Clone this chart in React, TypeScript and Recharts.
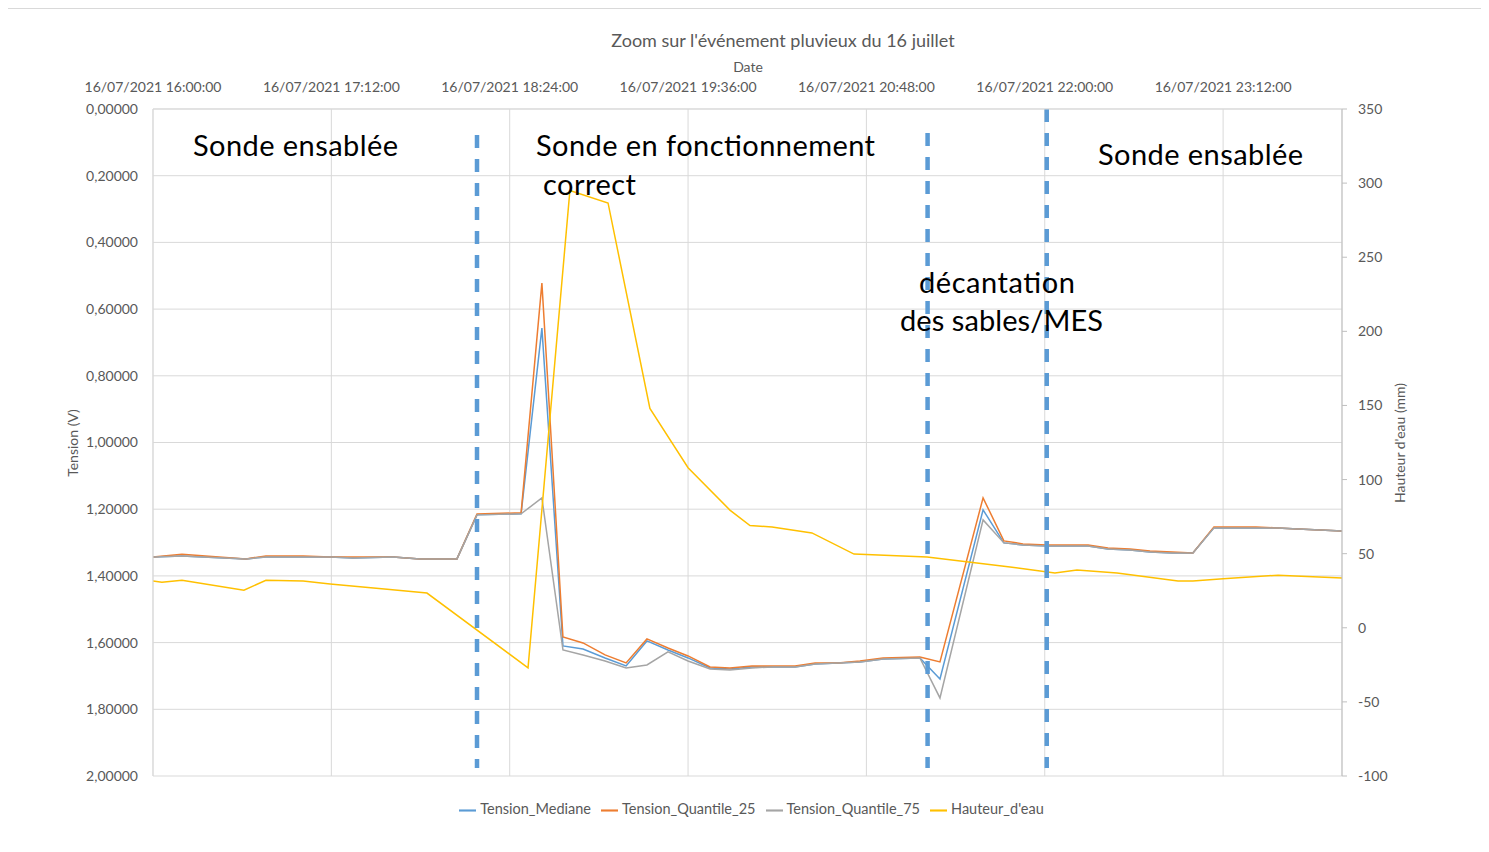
import React from 'react';
import { LineChart, Line, XAxis, YAxis, CartesianGrid, ReferenceLine, Legend } from 'recharts';

// minutes after 16/07/2021 16:00:00
const tensionTimes = [0, 11.7, 37.5, 45.6, 60.6, 71.5, 80.8, 96.9, 107.8, 122.7, 130.8, 148.6, 157.0, 165.5, 173.6, 182.5, 191.0, 199.4, 207.9, 216.0, 224.9, 232.9, 241.8, 250.3, 259.2, 267.3, 276.5, 285.4, 294.7, 309.6, 317.7, 335.1, 343.5, 351.2, 360.9, 369.0, 377.5, 385.5, 394.4, 402.5, 411.4, 419.8, 428.3, 436.8, 445.3, 453.8, 462.2, 471.1, 480];
const tensionMediane = [1.343, 1.340, 1.349, 1.343, 1.343, 1.343, 1.346, 1.343, 1.349, 1.349, 1.217, 1.214, 0.657, 1.610, 1.619, 1.646, 1.670, 1.595, 1.622, 1.646, 1.676, 1.679, 1.673, 1.673, 1.673, 1.664, 1.661, 1.658, 1.649, 1.646, 1.709, 1.202, 1.301, 1.307, 1.310, 1.310, 1.310, 1.319, 1.322, 1.328, 1.331, 1.331, 1.256, 1.256, 1.256, 1.256, 1.259, 1.262, 1.265];
const tensionQ25 = [1.343, 1.335, 1.349, 1.340, 1.340, 1.343, 1.343, 1.343, 1.349, 1.349, 1.214, 1.211, 0.522, 1.583, 1.601, 1.637, 1.661, 1.589, 1.616, 1.640, 1.673, 1.676, 1.670, 1.670, 1.670, 1.661, 1.661, 1.655, 1.646, 1.643, 1.658, 1.166, 1.295, 1.304, 1.307, 1.307, 1.307, 1.316, 1.319, 1.325, 1.328, 1.331, 1.253, 1.253, 1.253, 1.256, 1.259, 1.262, 1.265];
const tensionQ75 = [1.343, 1.340, 1.349, 1.343, 1.343, 1.343, 1.346, 1.343, 1.349, 1.349, 1.217, 1.214, 1.166, 1.622, 1.637, 1.655, 1.676, 1.667, 1.628, 1.655, 1.679, 1.682, 1.676, 1.673, 1.673, 1.664, 1.661, 1.658, 1.649, 1.646, 1.766, 1.232, 1.301, 1.307, 1.310, 1.310, 1.310, 1.319, 1.322, 1.328, 1.331, 1.331, 1.256, 1.256, 1.256, 1.256, 1.259, 1.262, 1.265];

const hauteurTimes = [0, 3.6, 11.7, 36.7, 45.6, 60.6, 71.5, 94.5, 110.6, 151.4, 168.3, 183.7, 200.6, 216.0, 232.9, 241.0, 249.9, 266.0, 283.0, 312.5, 332.6, 346.0, 364.1, 373.0, 389.2, 413.8, 419.8, 432.0, 454.2, 480];
const hauteurEau = [31.5, 30.8, 32, 25.4, 32, 31.5, 29.5, 26, 23.4, -27, 295, 286.6, 148, 108, 79.4, 69, 68, 64, 49.7, 47.7, 43.7, 41, 37, 39, 37, 31.5, 31.5, 33, 35.5, 33.5];

const timeTicks = [0, 72, 144, 216, 288, 360, 432];
const tensionTicks = [0, 0.2, 0.4, 0.6, 0.8, 1.0, 1.2, 1.4, 1.6, 1.8, 2.0];
const hauteurTicks = [-100, -50, 0, 50, 100, 150, 200, 250, 300, 350];

// vertical dashed separators (time, top in V, bottom in V)
const dividerTimes = [130.8, 312.7, 360.8];
const dividerTops = [0.078, 0.072, 0.0];
const dividerBottom = 1.976;

const GREY = '#595959';
const TICK = { fontFamily: 'Lato', fontSize: 14, fill: GREY };

const pad = (n: number) => String(n).padStart(2, '0');
const fmtTime = (m: number) => {
  const total = 16 * 60 + Math.round(m);
  return `16/07/2021 ${pad(Math.floor(total / 60) % 24)}:${pad(total % 60)}:00`;
};
const fmtTension = (v: number) => v.toFixed(5).replace('.', ',');

const medianeData = tensionTimes.map((t, i) => ({ t, v: tensionMediane[i] }));
const q25Data = tensionTimes.map((t, i) => ({ t, v: tensionQ25[i] }));
const q75Data = tensionTimes.map((t, i) => ({ t, v: tensionQ75[i] }));
const hauteurData = hauteurTimes.map((t, i) => ({ t, v: hauteurEau[i] }));

const App: React.FC = () => {
  return (
    <div style={{ position: 'relative', marginLeft: -3, width: 1477, height: 846, fontFamily: 'Lato' }}>
      <div style={{ position: 'absolute', inset: 0, border: '1px solid #d9d9d9', pointerEvents: 'none' }} />
      <LineChart width={1477} height={844} margin={{ top: 50, right: 60, bottom: 76, left: 0 }}>
        <CartesianGrid stroke="#d9d9d9" yAxisId="left" />
        <XAxis
          dataKey="t"
          type="number"
          orientation="top"
          domain={[0, 480]}
          ticks={timeTicks}
          tickFormatter={fmtTime}
          height={51}
          tick={TICK}
          tickLine={false}
          tickSize={0}
          tickMargin={17}
          stroke="#d9d9d9"
          allowDataOverflow
        />
        <YAxis
          yAxisId="left"
          reversed
          domain={[0, 2]}
          ticks={tensionTicks}
          tickFormatter={fmtTension}
          width={148}
          tick={TICK}
          tickLine={false}
          tickSize={0}
          tickMargin={15}
          stroke="#d9d9d9"
        />
        <YAxis
          yAxisId="right"
          orientation="right"
          domain={[-100, 350]}
          ticks={hauteurTicks}
          width={80}
          tick={{ ...TICK, textAnchor: 'start' }}
          tickSize={5}
          tickMargin={11}
          stroke="#bfbfbf"
        />
        <Line yAxisId="left" data={medianeData} dataKey="v" name="Tension_Mediane" stroke="#5B9BD5" strokeWidth={1.5} dot={false} type="linear" legendType="plainline" isAnimationActive={false} />
        <Line yAxisId="left" data={q25Data} dataKey="v" name="Tension_Quantile_25" stroke="#ED7D31" strokeWidth={1.5} dot={false} type="linear" legendType="plainline" isAnimationActive={false} />
        <Line yAxisId="left" data={q75Data} dataKey="v" name="Tension_Quantile_75" stroke="#A5A5A5" strokeWidth={1.5} dot={false} type="linear" legendType="plainline" isAnimationActive={false} />
        <Line yAxisId="right" data={hauteurData} dataKey="v" name="Hauteur_d'eau" stroke="#FFC000" strokeWidth={1.5} dot={false} type="linear" legendType="plainline" isAnimationActive={false} />
        {dividerTimes.map((x, i) => (
          <ReferenceLine
            key={i}
            yAxisId="left"
            segment={[{ x, y: dividerTops[i] }, { x, y: dividerBottom }]}
            stroke="#5B9BD5"
            strokeWidth={4.5}
            strokeDasharray="13 11"
            ifOverflow="visible"
          />
        ))}
        <Legend
          verticalAlign="middle"
          align="center"
          iconSize={17}
          itemSorter="dataKey"
          wrapperStyle={{ top: 792, left: 13, width: 1477, fontFamily: 'Lato', fontSize: 14.5 }}
          formatter={(value: string) => <span style={{ color: GREY }}>{value}</span>}
        />
      </LineChart>
      <svg width={1477} height={844} style={{ position: 'absolute', left: 0, top: 0, pointerEvents: 'none' }}>
        <g transform="translate(-5,-8)" fontFamily="Lato">
          <text x={783} y={47} textAnchor="middle" fontSize={18} fill={GREY}>Zoom sur l'événement pluvieux du 16 juillet</text>
          <text x={748} y={72} textAnchor="middle" fontSize={14} fill={GREY}>Date</text>
          <text transform="translate(78,443) rotate(-90)" textAnchor="middle" fontSize={14} fill={GREY}>Tension (V)</text>
          <text transform="translate(1405,443) rotate(-90)" textAnchor="middle" fontSize={14} fill={GREY}>Hauteur d'eau (mm)</text>
          <g fontSize={29} fill="#000">
            <text x={193} y={156} textLength={205}>Sonde ensablée</text>
            <text x={536} y={156} textLength={339}>Sonde en fonctionnement</text>
            <text x={543} y={195} textLength={93}>correct</text>
            <text x={919} y={293} textLength={156}>décantation</text>
            <text x={900} y={331} textLength={203}>des sables/MES</text>
            <text x={1098} y={165} textLength={205}>Sonde ensablée</text>
          </g>
        </g>
      </svg>
    </div>
  );
};

export default App;
